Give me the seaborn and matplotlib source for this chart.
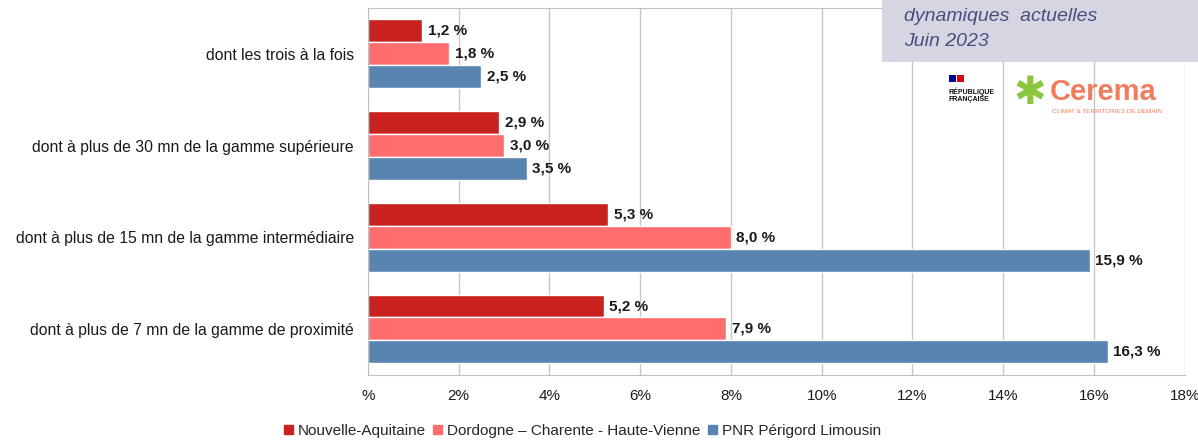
import pandas as pd
import seaborn as sns
import matplotlib.pyplot as plt
from matplotlib.patches import Rectangle
from matplotlib.ticker import FixedLocator, FuncFormatter

# Data
categories = [
    'dont les trois à la fois',
    'dont à plus de 30 mn de la gamme supérieure',
    'dont à plus de 15 mn de la gamme intermédiaire',
    'dont à plus de 7 mn de la gamme de proximité',
]
series = ['Nouvelle-Aquitaine', 'Dordogne – Charente - Haute-Vienne', 'PNR Périgord Limousin']
nouvelle_aquitaine = [1.2, 2.9, 5.3, 5.2]
dordogne_charente = [1.8, 3.0, 8.0, 7.9]
pnr_perigord = [2.5, 3.5, 15.9, 16.3]
x_ticks = [0, 2, 4, 6, 8, 10, 12, 14, 16, 18]

rows = []
for name, vals in zip(series, [nouvelle_aquitaine, dordogne_charente, pnr_perigord]):
    for cat, v in zip(categories, vals):
        rows.append({'Catégorie': cat, 'Territoire': name, 'Valeur': v})
df = pd.DataFrame(rows)

sns.set_style("white")
plt.rcParams['font.family'] = ['Liberation Sans', 'DejaVu Sans']

fig = plt.figure(figsize=(11.98, 4.42), dpi=100)
ax = fig.add_axes([0.307, 0.152, 0.682, 0.83])

palette = ['#C9211E', '#FF6D6D', '#5983B0']
sns.barplot(data=df, y='Catégorie', x='Valeur', hue='Territoire', order=categories,
            hue_order=series, palette=palette, orient='h', width=0.75,
            saturation=1, ax=ax, legend=False)

# value labels
for container in ax.containers:
    labels = [f'{v:.1f} %'.replace('.', ',') for v in container.datavalues]
    ax.bar_label(container, labels=labels, padding=4, fontsize=11, fontweight='bold',
                 color='#1a1a1a')

ax.set_xlim(0, 18)
ax.set_ylim(3.5, -0.5)
ax.set_xticks(x_ticks)
ax.xaxis.set_major_formatter(FuncFormatter(lambda v, p: '%' if v == 0 else f'{v:.0f}%'))
ax.tick_params(axis='x', length=5, color='#c0c0c0', labelsize=11, pad=5,
               labelcolor='#1a1a1a')
ax.tick_params(axis='y', which='major', length=0, labelsize=11.3, pad=10,
               labelcolor='#1a1a1a')
ax.yaxis.set_minor_locator(FixedLocator([-0.5, 0.5, 1.5, 2.5, 3.5]))
ax.tick_params(axis='y', which='minor', length=6, color='#c0c0c0')
ax.set_xlabel('')
ax.set_ylabel('')
ax.grid(axis='x', color='#c8c8c8', linewidth=1)
ax.set_axisbelow(True)
for side in ['left', 'bottom', 'top']:
    ax.spines[side].set_color('#c0c0c0')
ax.spines['right'].set_visible(False)

# legend
handles = [Rectangle((0, 0), 1, 1, color=c) for c in palette]
fig.legend(handles, series, loc='lower center', bbox_to_anchor=(0.486, -0.022), ncol=3,
           frameon=False, fontsize=11, handlelength=0.6, handleheight=0.6,
           handletextpad=0.3, columnspacing=0.5)

# header box with logos
fig.patches.append(Rectangle((0.736, 0.86), 0.27, 0.15, transform=fig.transFigure,
                             facecolor='#D5D6E1', edgecolor='none', zorder=5))
fig.text(0.755, 0.953, 'dynamiques  actuelles', fontsize=14, style='italic',
         color='#46507E', zorder=6)
fig.text(0.755, 0.895, 'Juin 2023', fontsize=14, style='italic',
         color='#46507E', zorder=6)
fig.patches.append(Rectangle((0.792, 0.815), 0.006, 0.015, transform=fig.transFigure,
                             facecolor='#000091', edgecolor='none', zorder=6))
fig.patches.append(Rectangle((0.799, 0.815), 0.006, 0.015, transform=fig.transFigure,
                             facecolor='#E1000F', edgecolor='none', zorder=6))
fig.text(0.792, 0.785, 'RÉPUBLIQUE\nFRANÇAISE', fontsize=5, fontweight='bold',
         color='#111111', va='center', linespacing=0.9)
fig.text(0.846, 0.79, '✱', fontsize=28, color='#8CC63F', va='center',
         family=['DejaVu Sans'])
fig.text(0.876, 0.792, 'Cerema', fontsize=21, fontweight='bold', color='#EF7D5E',
         va='center')
fig.text(0.878, 0.748, 'CLIMAT & TERRITOIRES DE DEMAIN', fontsize=4.6, color='#EF7D5E',
         va='center')

fig.savefig('out.png', dpi=100)
